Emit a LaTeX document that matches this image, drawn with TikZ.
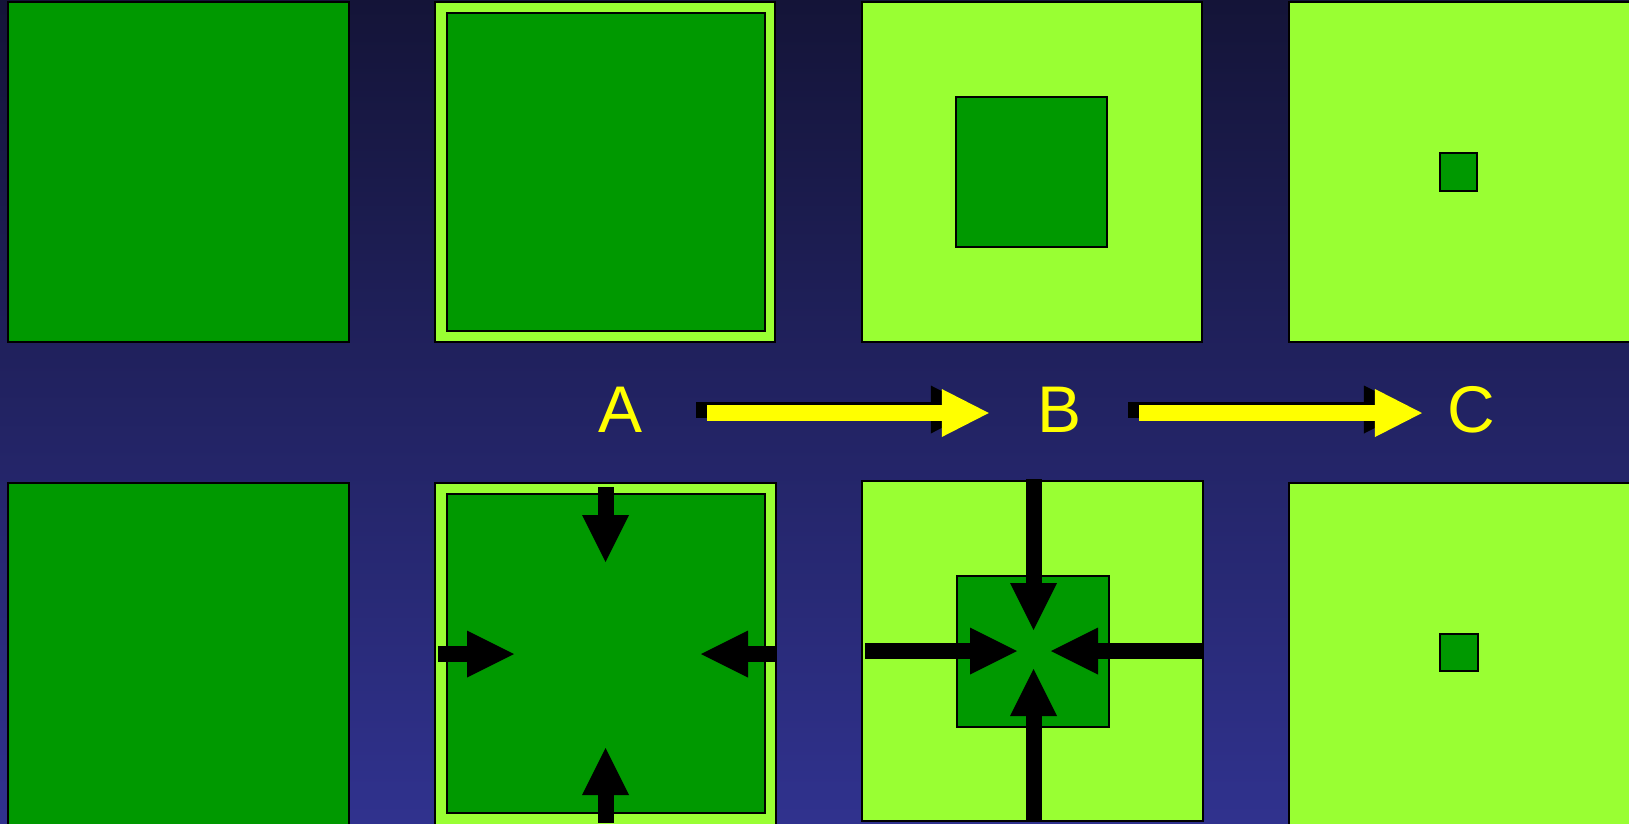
\documentclass[tikz,border=0pt]{standalone}
\usepackage{fontspec}
\setmainfont{Liberation Sans}
\usepackage{xcolor}
\usepackage{tikz}
\usetikzlibrary{arrows.meta}
\definecolor{DarkGreen}{RGB}{0,153,0}
\definecolor{LightGreen}{RGB}{153,255,51}
\definecolor{NavyTop}{RGB}{20,20,56}
\definecolor{NavyMid}{RGB}{36,36,104}
\definecolor{NavyBottom}{RGB}{48,50,142}
\definecolor{Label}{RGB}{255,255,0}
\tikzset{
	dark/.style={fill=DarkGreen, draw=black, line width=2pt},
	light/.style={fill=LightGreen, draw=black, line width=2pt},
	push/.style={draw=black, line width=16pt, -{Triangle[length=47pt, width=47pt, line width=0pt]}},
	flow/.style={line width=16pt, -{Triangle[length=47pt, width=48pt, line width=0pt]}},
	shadow/.style={flow, black, transform canvas={xshift=-11pt, yshift=0.5pt}},
	lit/.style={flow, Label, transform canvas={yshift=-3pt}},
	letter/.style={text=Label, inner sep=0pt, font=\fontsize{66}{70}\selectfont}
}
\begin{document}
\begin{tikzpicture}[x=1pt, y=-1pt]
		\useasboundingbox (0,0) rectangle (1629,823);
		\shade[top color=NavyTop, middle color=NavyMid, bottom color=NavyBottom] (0,0) rectangle (1629,823);
		% top row
		\filldraw[dark] (8,2) rectangle (349,342);
		\filldraw[light] (435,2) rectangle (775,342);
		\filldraw[dark] (447,13) rectangle (765,331);
		\filldraw[light] (862,2) rectangle (1202,342);
		\filldraw[dark] (956,97) rectangle (1107,247);
		\filldraw[light] (1289,2) rectangle (1632,342);
		\filldraw[dark] (1440,153) rectangle (1477,191);
		% bottom row
		\filldraw[dark] (8,483) rectangle (349,826);
		\filldraw[light] (435,483) rectangle (776,826);
		\filldraw[dark] (447,494) rectangle (765,813);
		\filldraw[light] (862,481) rectangle (1203,821);
		\filldraw[dark] (957,576) rectangle (1109,727);
		\filldraw[light] (1289,483) rectangle (1632,826);
		\filldraw[dark] (1440,634) rectangle (1478,671);
		% pressure, second square
		\draw[push] (605.5,487) -- (605.5,562);
		\draw[push] (605.5,823) -- (605.5,748);
		\draw[push] (438,654) -- (514,654);
		\draw[push] (776,654) -- (701,654);
		% pressure, third square
		\draw[push] (1033.5,479) -- (1033.5,630);
		\draw[push] (1033.5,820) -- (1033.5,669);
		\draw[push] (865,651) -- (1017,651);
		\draw[push] (1202,651) -- (1051,651);
		% A -> B -> C
		\node[letter] (A) at (621,410) {A};
		\node[letter] (B) at (1059,410) {B};
		\node[letter] (C) at (1471,410) {C};
		\draw[shadow, shorten <=64pt, shorten >=48pt] (A.east) -- (B.west);
		\draw[lit, shorten <=64pt, shorten >=48pt] (A.east) -- (B.west);
		\draw[shadow, shorten <=58pt, shorten >=25pt] (B.east) -- (C.west);
		\draw[lit, shorten <=58pt, shorten >=25pt] (B.east) -- (C.west);
	\end{tikzpicture}
\end{document}
